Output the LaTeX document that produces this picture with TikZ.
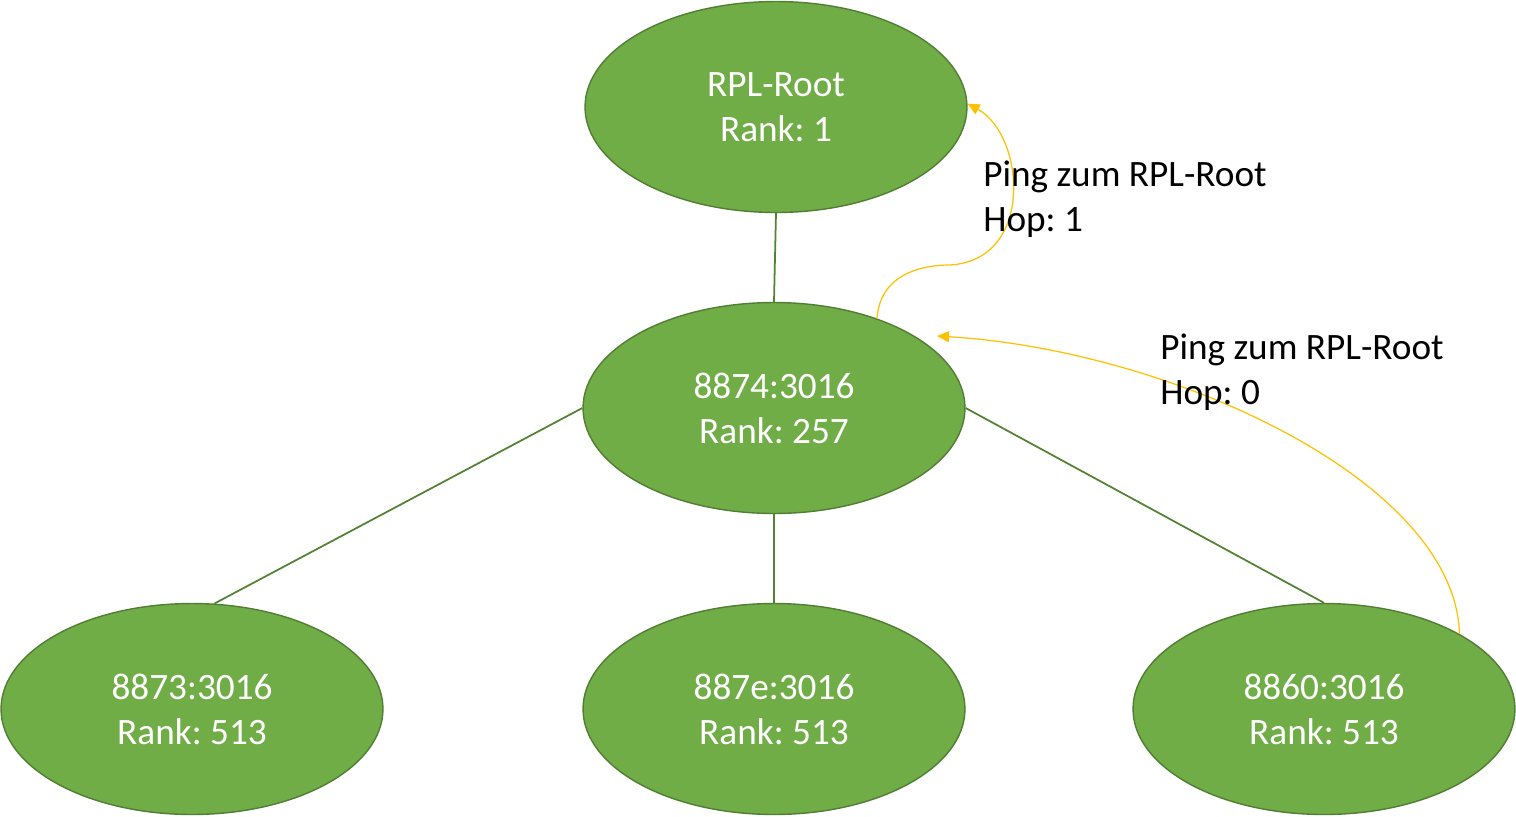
\documentclass[tikz,border=0pt]{standalone}
\usepackage{fontspec}
\setmainfont{Carlito}
\usetikzlibrary{shapes.geometric,arrows.meta}
\definecolor{fillg}{HTML}{70AD47}
\definecolor{lineg}{HTML}{507E32}
\definecolor{edgeg}{HTML}{548235}
\definecolor{ping}{HTML}{FFC000}
\frenchspacing
\begin{document}
\begin{tikzpicture}[x=0.02cm,y=-0.02cm,
  nodeell/.style={ellipse, fill=fillg, draw=lineg, line width=0.8pt,
    minimum width=7.64cm, minimum height=4.22cm, inner sep=0pt,
    text=white, align=center, font=\fontsize{21.2}{25.6}\selectfont},
  link/.style={draw=edgeg, line width=1pt},
  pingarrow/.style={draw=ping, line width=0.7pt, -{Triangle[length=0.24cm,width=0.22cm]}},
  lbl/.style={align=left, inner sep=0pt, anchor=west, font=\fontsize{21.2}{25.6}\selectfont}]
\useasboundingbox (0,0) rectangle (1516,816);

\node[nodeell] (root) at (776,107) {RPL-Root\\Rank: 1};
\node[nodeell] (mid) at (774,408) {8874:3016\\Rank: 257};
\node[nodeell] (bl) at (192,709) {8873:3016\\Rank: 513};
\node[nodeell] (bm) at (774,709) {887e:3016\\Rank: 513};
\node[nodeell] (br) at (1324,709) {8860:3016\\Rank: 513};

\draw[link] (root.south) -- (mid.north);
\draw[link] (mid.west) -- (bl.78);
\draw[link] (mid.south) -- (bm.north);
\draw[link] (mid.east) -- (br.north);

\coordinate (p1mid) at (950,265);
\coordinate (p2end) at (937,336);

\draw[pingarrow] (mid.41) .. controls (880,275) and (920,265) .. (p1mid)
  .. controls (1035,260) and (1025,135) .. (root.1);
\draw[pingarrow] (br.29) .. controls (1455,480) and (1170,350) .. (p2end);

\node[lbl] (l1) at (983,199) {Ping zum RPL-Root\\Hop: 1};
\node[lbl] (l2) at (1160,372) {Ping zum RPL-Root\\Hop: 0};
\end{tikzpicture}
\end{document}
